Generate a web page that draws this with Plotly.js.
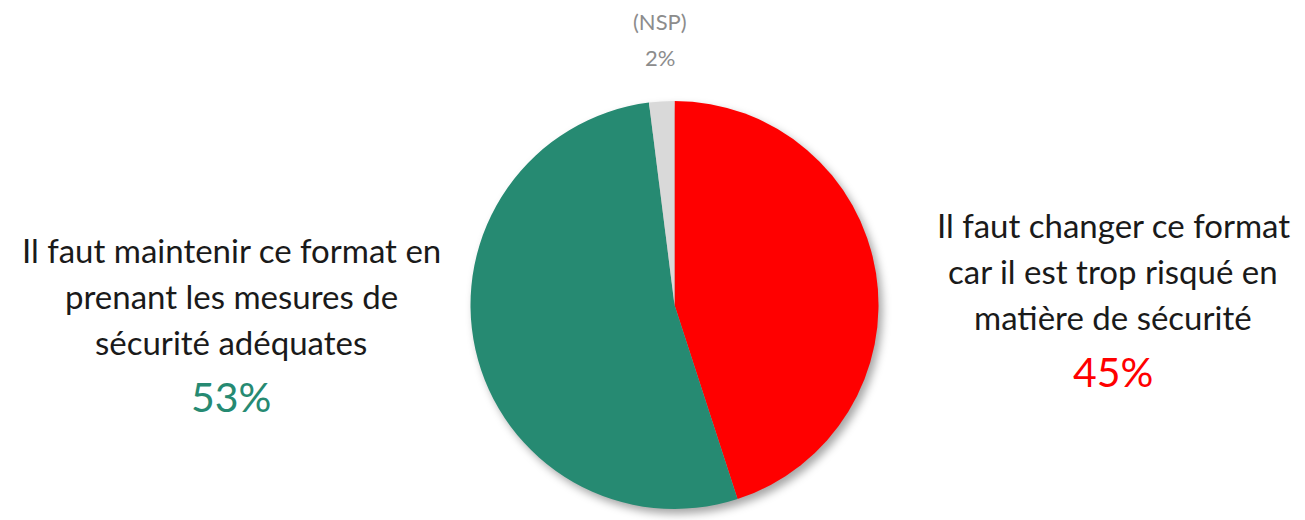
<!DOCTYPE html>
<html>
<head>
<meta charset="utf-8">
<script src="https://cdn.plot.ly/plotly-3.0.1.min.js"></script>
<style>
  html, body { margin: 0; padding: 0; background: #fff; }
  #chart { width: 1305px; height: 520px; }
  .pielayer { filter: drop-shadow(4px 5px 4px rgba(0, 0, 0, 0.35)); }
</style>
</head>
<body>
<div id="chart"></div>
<script>
// Données du camembert (sens horaire depuis midi)
const categories = [
  "Il faut changer ce format car il est trop risqué en matière de sécurité",
  "Il faut maintenir ce format en prenant les mesures de sécurité adéquates",
  "(NSP)"
];
const values = [45, 53, 2];
const colors = ["#ff0000", "#268a72", "#d9d9d9"];

// Textes des étiquettes
const leftLines = ["Il faut maintenir ce format en", "prenant les mesures de", "sécurité adéquates"];
const rightLines = ["Il faut changer ce format", "car il est trop risqué en", "matière de sécurité"];
const nspLines = ["(NSP)", "2%"];

const W = 1305, H = 520;
const FONT = "Lato, 'Open Sans', sans-serif";

const data = [{
  type: "pie",
  labels: categories,
  values: values,
  marker: { colors: colors, line: { width: 0 } },
  sort: false,
  direction: "clockwise",
  rotation: 0,
  textinfo: "none",
  hoverinfo: "label+percent",
  showlegend: false,
  domain: { x: [470 / W, 879 / W], y: [1 - 509 / H, 1 - 101 / H] }
}];

// une annotation par ligne, pour garder l'interligne du modèle
function lineAnn(text, x, y, size, color) {
  return {
    text: text,
    x: x / W, y: 1 - y / H,
    xref: "paper", yref: "paper",
    xanchor: "center", yanchor: "middle",
    showarrow: false,
    font: { family: FONT, size: size, color: color }
  };
}

const annotations = [];
leftLines.forEach((t, i) => annotations.push(lineAnn(t, 231, 250 + i * 46, 33, "#1a1a1a")));
annotations.push(lineAnn(values[1] + "%", 231, 396, 41, colors[1]));
rightLines.forEach((t, i) => annotations.push(lineAnn(t, 1113, 225 + i * 46, 33, "#1a1a1a")));
annotations.push(lineAnn(values[0] + "%", 1113, 371, 41, colors[0]));
nspLines.forEach((t, i) => annotations.push(lineAnn(t, 660, 22 + i * 35, 22, "#8c8c8c")));

const layout = {
  width: W,
  height: H,
  margin: { l: 0, r: 0, t: 0, b: 0 },
  paper_bgcolor: "#ffffff",
  plot_bgcolor: "#ffffff",
  annotations: annotations
};

Plotly.newPlot("chart", data, layout, { displayModeBar: false });
</script>
</body>
</html>
